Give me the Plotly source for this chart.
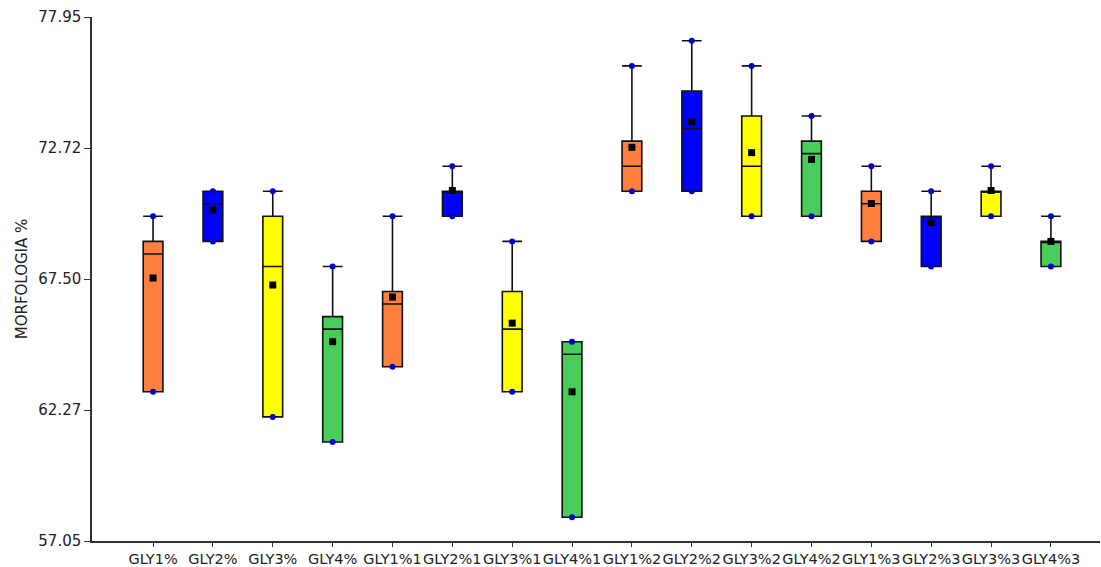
import plotly.graph_objects as go

# Groups along the x axis
categories = ["GLY1%", "GLY2%", "GLY3%", "GLY4%",
              "GLY1%1", "GLY2%1", "GLY3%1", "GLY4%1",
              "GLY1%2", "GLY2%2", "GLY3%2", "GLY4%2",
              "GLY1%3", "GLY2%3", "GLY3%3", "GLY4%3"]

# Box statistics per group (MORFOLOGIA %)
minimum = [63, 69, 62, 61, 64, 70, 63, 58, 71, 71, 70, 70, 69, 68, 70, 68]
q1      = [63, 69, 62, 61, 64, 70, 63, 58, 71, 71, 70, 70, 69, 68, 70, 68]
median  = [68.5, 70.5, 68, 65.5, 66.5, 71, 65.5, 64.5, 72, 73.5, 72, 72.5, 70.5, 70, 71, 69]
q3      = [69, 71, 70, 66, 67, 71, 67, 65, 73, 75, 74, 73, 71, 70, 71, 69]
maximum = [70, 71, 71, 68, 70, 72, 69, 65, 76, 77, 76, 74, 72, 71, 72, 70]
mean    = [67.54, 70.26, 67.26, 65.0, 66.78, 71.03, 65.74, 63.0,
           72.75, 73.77, 72.54, 72.27, 70.51, 69.75, 71.03, 69.0]

# Y axis ticks
y_ticks = [57.05, 62.27, 67.50, 72.72, 77.95]

colors = ["#FF7F3F", "#0000FF", "#FFFF00", "#47CD5A"]

positions = list(range(len(categories)))

fig = go.Figure()

for c, col in enumerate(colors):
    idx = [i for i in positions if i % 4 == c]
    fig.add_trace(go.Box(
        x=[positions[i] for i in idx],
        q1=[q1[i] for i in idx],
        median=[median[i] for i in idx],
        q3=[q3[i] for i in idx],
        lowerfence=[minimum[i] for i in idx],
        upperfence=[maximum[i] for i in idx],
        fillcolor=col,
        line=dict(color="#111111", width=1.6),
        width=0.33,
        whiskerwidth=1,
        boxpoints=False,
        hoverinfo="skip",
        showlegend=False,
    ))

# Min / max markers
fig.add_trace(go.Scatter(
    x=positions + positions,
    y=minimum + maximum,
    mode="markers",
    marker=dict(color="#0000CC", size=6, symbol="circle"),
    showlegend=False,
    hoverinfo="skip",
))

# Mean markers
fig.add_trace(go.Scatter(
    x=positions,
    y=mean,
    mode="markers",
    marker=dict(color="#000000", size=7, symbol="square"),
    showlegend=False,
    hoverinfo="skip",
))

font_family = "DejaVu Sans"

fig.update_layout(
    width=1101,
    height=567,
    margin=dict(l=92, r=1, t=17, b=26, autoexpand=False),
    paper_bgcolor="white",
    plot_bgcolor="white",
    font=dict(family=font_family, size=15, color="#222222"),
    xaxis=dict(
        range=[-1.02, 15.82],
        tickmode="array",
        tickvals=positions,
        ticktext=categories,
        tickangle=0,
        ticks="outside",
        ticklen=4,
        tickcolor="#333333",
        showline=True,
        linecolor="#333333",
        linewidth=1.5,
        showgrid=False,
        zeroline=False,
        automargin=False,
        tickfont=dict(family=font_family, size=14.5, color="#222222"),
    ),
    yaxis=dict(
        range=[57.05, 77.95],
        tickmode="array",
        tickvals=y_ticks,
        ticktext=[f"{v:.2f}" for v in y_ticks],
        ticks="outside",
        ticklen=6,
        tickcolor="#333333",
        showline=True,
        linecolor="#333333",
        linewidth=1.5,
        showgrid=False,
        zeroline=False,
        automargin=False,
        tickfont=dict(family=font_family, size=15, color="#222222"),
        title=dict(text="MORFOLOGIA %", font=dict(family=font_family, size=15, color="#222222"), standoff=7),
    ),
)

fig.write_html("out.html")
